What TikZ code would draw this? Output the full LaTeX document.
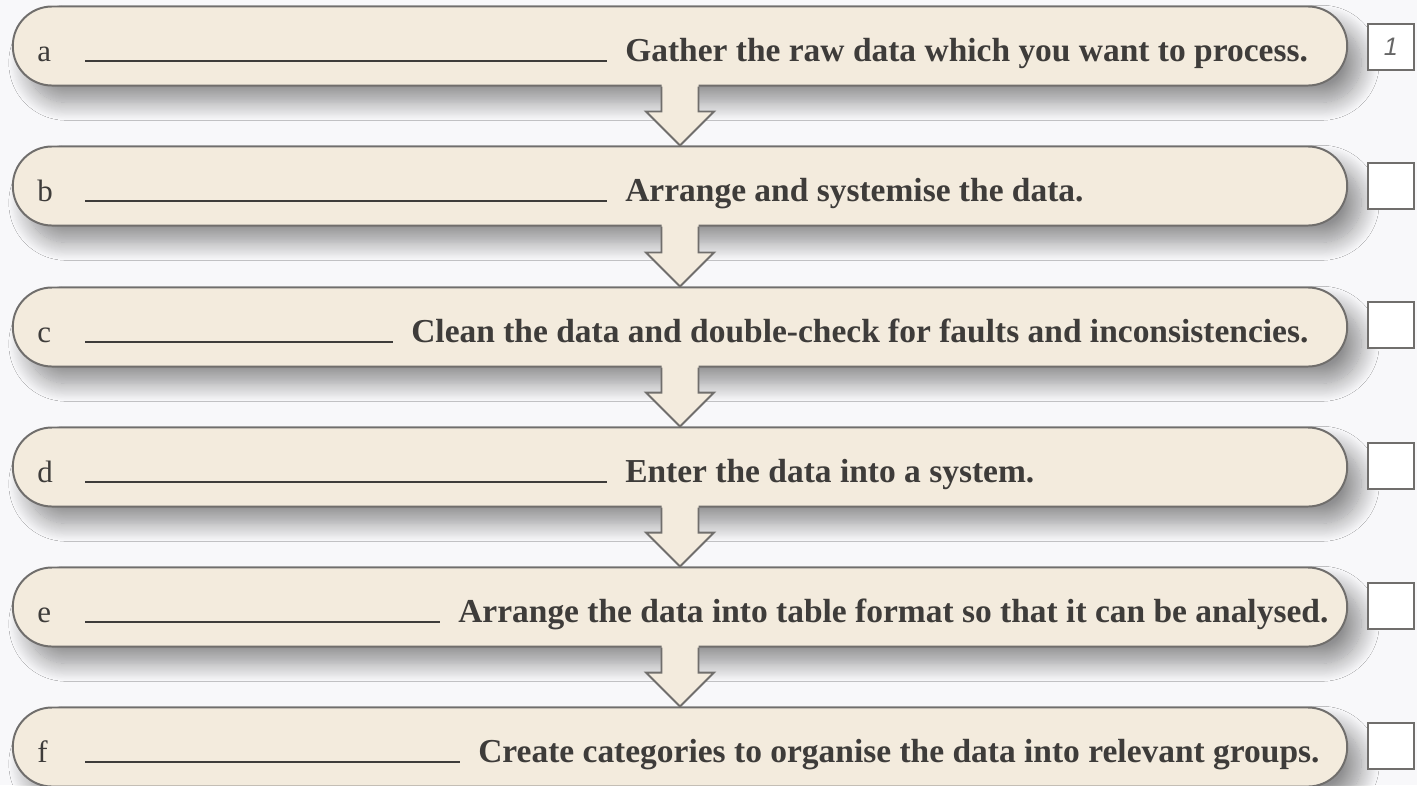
\documentclass[tikz,border=0pt]{standalone}
\usepackage{fontspec}
\setmainfont{Liberation Serif}
\newfontfamily\numfont{Liberation Sans}
\usetikzlibrary{calc,shadows.blur}
\definecolor{pagebg}{RGB}{248,248,250}
\definecolor{pillfill}{RGB}{243,235,221}
\definecolor{pilldraw}{RGB}{112,110,108}
\definecolor{inktext}{RGB}{62,60,58}

\begin{document}
\begin{tikzpicture}[x=0.025cm, y=-0.025cm,
  pill/.style={rectangle, rounded corners=0.98cm, fill=pillfill, draw=pilldraw, line width=1.4pt,
    minimum width=33.35cm, minimum height=1.975cm,
    blur shadow={shadow xshift=0.35cm, shadow yshift=-0.42cm, shadow blur radius=0.45cm,
      shadow blur steps=20, shadow opacity=42}},
  letter/.style={font=\fontsize{22}{26}\selectfont, text=inktext, inner sep=0pt, anchor=base west},
  task/.style={font=\fontsize{23.8}{28}\selectfont\bfseries, text=inktext, inner sep=0pt, anchor=base west},
  blank/.style={draw=inktext, line width=1.1pt},
  tickbox/.style={rectangle, draw=pilldraw, fill=white, line width=1.4pt, minimum size=1.15cm,
    font=\fontsize{18}{20}\selectfont\numfont\itshape, text=gray!80!black},
  flowarrow/.style={draw=pilldraw, line width=1.4pt, line join=miter}
]
  \useasboundingbox (0,0) rectangle (1417,785);
  \fill[pagebg] (0,0) rectangle (1417,785);

  % the six steps
  \node[pill] (pilla) at (680,46) {};
  \node[pill] (pillb) at (680,186) {};
  \node[pill] (pillc) at (680,327) {};
  \node[pill] (pilld) at (680,467) {};
  \node[pill] (pille) at (680,607) {};
  \node[pill] (pillf) at (680,747) {};

  % arrows between the steps
  \foreach \u/\v in {a/b,b/c,c/d,d/e,e/f}{
    \fill[pillfill] ($(pill\u.south)+(-18.5,-3)$) -- ($(pill\u.south)+(18.5,-3)$) -- ($(pill\v.north)+(18.5,-34)$)
      -- ($(pill\v.north)+(34,-34)$) -- (pill\v.north) -- ($(pill\v.north)+(-34,-34)$) -- ($(pill\v.north)+(-18.5,-34)$) -- cycle;
    \draw[flowarrow] ($(pill\u.south)+(-18.5,0)$) -- ($(pill\v.north)+(-18.5,-34)$) -- ($(pill\v.north)+(-34,-34)$)
      -- (pill\v.north) -- ($(pill\v.north)+(34,-34)$) -- ($(pill\v.north)+(18.5,-34)$) -- ($(pill\u.south)+(18.5,0)$);
  }

  % letters and texts
  \node[letter] (leta) at (37,61) {a};
  \node[task] (taska) at (625,61) {Gather the raw data which you want to process.};
  \node[letter] (letb) at (37,201) {b};
  \node[task] (taskb) at (625,201) {Arrange and systemise the data.};
  \node[letter] (letc) at (37,342) {c};
  \node[task] (taskc) at (411,342) {Clean the data and double-check for faults and inconsistencies.};
  \node[letter] (letd) at (37,482) {d};
  \node[task] (taskd) at (625,482) {Enter the data into a system.};
  \node[letter] (lete) at (37,622) {e};
  \node[task] (taske) at (458,622) {Arrange the data into table format so that it can be analysed.};
  \node[letter] (letf) at (37,762) {f};
  \node[task] (taskf) at (478,762) {Create categories to organise the data into relevant groups.};

  % blanks to write in
  \foreach \s in {a,b,c,d,e,f}{
    \draw[blank] ($(let\s.base west)+(48,0)$) -- ($(task\s.base west)+(-18,0)$);
  }

  % boxes for the order
  \node[tickbox] (ticka) at (1391,47) {1};
  \node[tickbox] (tickb) at (1391,186) {};
  \node[tickbox] (tickc) at (1391,325) {};
  \node[tickbox] (tickd) at (1391,466) {};
  \node[tickbox] (ticke) at (1391,606) {};
  \node[tickbox] (tickf) at (1391,746) {};
\end{tikzpicture}
\end{document}
